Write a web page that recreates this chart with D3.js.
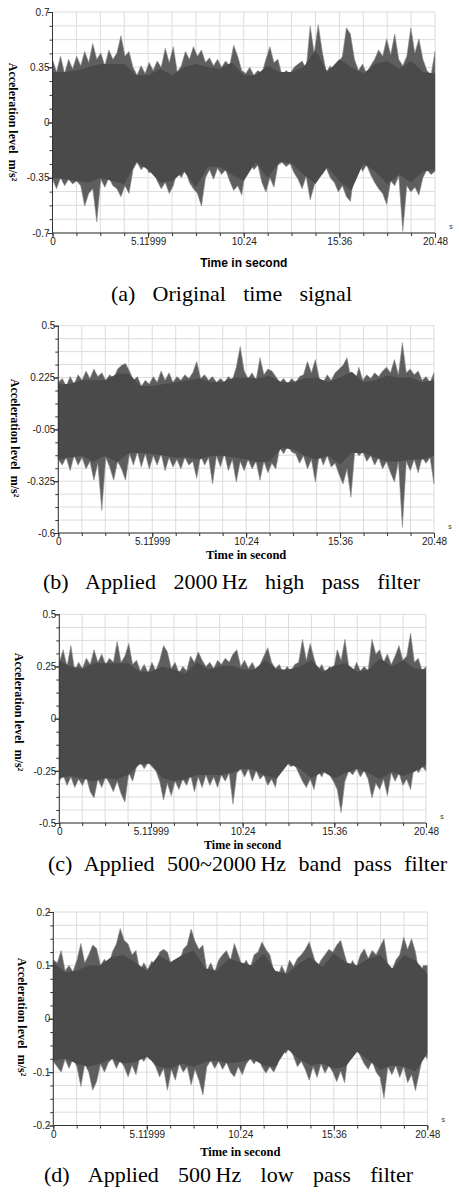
<!DOCTYPE html>
<html>
<head>
<meta charset="utf-8">
<script src="https://cdn.jsdelivr.net/npm/d3@7"></script>
<style>
  html, body { margin: 0; padding: 0; background: #fff; }
  svg { display: block; }
</style>
</head>
<body>
<svg id="chart" width="459" height="1193"></svg>
<script>
// shared x axis
const xTickValues = [0, 5.12, 10.24, 15.36, 20.48];
const xTickLabels = ['0', '5.11999', '10.24', '15.36', '20.48'];
const timeEnd = 20.48;

// (a) original time signal: peak envelope (96 pts) and dense core (33 pts)
const yTicksA = [0.7, 0.35, 0, -0.35, -0.7];
const yLabelsA = ['0.7', '0.35', '0', '-0.35', '-0.7'];
const upA = [0.40,0.32,0.42,0.31,0.40,0.34,0.42,0.36,0.45,0.38, 0.50,0.40,0.44,0.36,0.46,0.40,0.44,0.55,0.42,0.45,
  0.35,0.30,0.36,0.31,0.38,0.33,0.39,0.35,0.47,0.38, 0.48,0.32,0.36,0.45,0.40,0.48,0.42,0.46,0.38,0.41,
  0.36,0.40,0.35,0.39,0.36,0.49,0.42,0.33,0.31,0.35, 0.30,0.33,0.31,0.40,0.48,0.38,0.40,0.30,0.33,0.31,
  0.35,0.37,0.39,0.34,0.61,0.44,0.62,0.45,0.32,0.36, 0.31,0.38,0.42,0.60,0.56,0.40,0.33,0.37,0.31,0.36,
  0.40,0.46,0.42,0.53,0.43,0.56,0.40,0.36,0.42,0.60, 0.44,0.53,0.40,0.33,0.30,0.45];
const loA = [-0.36,-0.42,-0.35,-0.40,-0.36,-0.39,-0.37,-0.40,-0.53,-0.45, -0.42,-0.63,-0.36,-0.41,-0.35,-0.40,-0.42,-0.47,-0.40,-0.45,
  -0.30,-0.25,-0.30,-0.27,-0.32,-0.30,-0.37,-0.42,-0.38,-0.45, -0.40,-0.31,-0.35,-0.30,-0.38,-0.42,-0.45,-0.53,-0.35,-0.30,
  -0.36,-0.29,-0.33,-0.30,-0.37,-0.43,-0.40,-0.46,-0.29,-0.25, -0.30,-0.27,-0.38,-0.44,-0.35,-0.41,-0.27,-0.25,-0.28,-0.26,
  -0.32,-0.36,-0.42,-0.34,-0.49,-0.40,-0.30,-0.33,-0.29,-0.35, -0.38,-0.44,-0.40,-0.47,-0.50,-0.30,-0.25,-0.31,-0.27,-0.33,
  -0.38,-0.42,-0.45,-0.52,-0.37,-0.40,-0.34,-0.69,-0.40,-0.44, -0.41,-0.46,-0.35,-0.30,-0.33,-0.31];
const coreUpA = [0.32,0.32,0.33,0.35,0.37,0.37,0.37,0.30,0.30,0.34,0.30,0.35,0.37,0.35,0.34,0.38,0.30,
  0.30,0.36,0.32,0.32,0.35,0.46,0.32,0.40,0.35,0.31,0.37,0.39,0.34,0.39,0.32,0.31];
const coreLoA = [-0.35,-0.36,-0.37,-0.38,-0.35,-0.37,-0.39,-0.25,-0.30,-0.38,-0.37,-0.31,-0.41,-0.28,-0.28,-0.33,-0.37,
  -0.25,-0.35,-0.25,-0.26,-0.33,-0.39,-0.28,-0.37,-0.43,-0.26,-0.31,-0.39,-0.33,-0.38,-0.31,-0.30];

// (b) 2000 Hz high pass
const yTicksB = [0.5, 0.225, -0.05, -0.325, -0.6];
const yLabelsB = ['0.5', '0.225', '-0.05', '-0.325', '-0.6'];
const upB = [0.20,0.22,0.18,0.23,0.19,0.24,0.21,0.26,0.22,0.27, 0.23,0.25,0.21,0.24,0.22,0.27,0.29,0.30,0.26,0.21,
  0.23,0.18,0.21,0.19,0.23,0.20,0.26,0.21,0.25,0.20, 0.23,0.21,0.24,0.22,0.25,0.31,0.22,0.24,0.21,0.23,
  0.20,0.22,0.20,0.23,0.21,0.28,0.39,0.26,0.22,0.25, 0.21,0.33,0.24,0.27,0.26,0.23,0.20,0.22,0.19,0.22,
  0.20,0.23,0.24,0.31,0.25,0.32,0.22,0.20,0.24,0.21, 0.25,0.27,0.29,0.33,0.22,0.20,0.28,0.21,0.24,0.22,
  0.25,0.23,0.26,0.28,0.25,0.32,0.24,0.41,0.25,0.27, 0.24,0.26,0.21,0.23,0.20,0.25];
const loB = [-0.21,-0.24,-0.20,-0.27,-0.19,-0.24,-0.20,-0.26,-0.22,-0.32, -0.23,-0.48,-0.20,-0.25,-0.32,-0.22,-0.26,-0.32,-0.18,-0.24,
  -0.17,-0.25,-0.18,-0.26,-0.19,-0.24,-0.18,-0.27,-0.20,-0.25, -0.21,-0.26,-0.20,-0.24,-0.22,-0.31,-0.19,-0.24,-0.20,-0.34,
  -0.19,-0.25,-0.18,-0.27,-0.21,-0.33,-0.22,-0.27,-0.21,-0.26, -0.22,-0.32,-0.22,-0.28,-0.23,-0.26,-0.15,-0.18,-0.14,-0.17,
  -0.18,-0.23,-0.19,-0.26,-0.21,-0.33,-0.18,-0.24,-0.19,-0.25, -0.23,-0.29,-0.34,-0.26,-0.41,-0.16,-0.19,-0.17,-0.22,-0.19,
  -0.24,-0.20,-0.26,-0.22,-0.28,-0.33,-0.22,-0.57,-0.22,-0.27, -0.21,-0.28,-0.20,-0.23,-0.20,-0.34];
const coreUpB = [0.19,0.19,0.21,0.21,0.21,0.245,0.245,0.18,0.18,0.19,0.20,0.21,0.22,0.20,0.20,0.225,0.225,
  0.22,0.235,0.20,0.20,0.22,0.225,0.20,0.225,0.255,0.20,0.21,0.235,0.225,0.225,0.20,0.21];
const coreLoB = [-0.21,-0.20,-0.19,-0.22,-0.19,-0.225,-0.175,-0.175,-0.18,-0.19,-0.20,-0.20,-0.21,-0.19,-0.19,-0.20,-0.21,
  -0.225,-0.22,-0.15,-0.155,-0.19,-0.21,-0.19,-0.235,-0.175,-0.175,-0.20,-0.22,-0.22,-0.21,-0.21,-0.19];

// (c) 500~2000 Hz band pass
const yTicksC = [0.5, 0.25, 0, -0.25, -0.5];
const yLabelsC = ['0.5', '0.25', '0', '-0.25', '-0.5'];
const upC = [0.27,0.33,0.25,0.35,0.23,0.27,0.24,0.29,0.26,0.33, 0.27,0.31,0.26,0.29,0.27,0.37,0.27,0.30,0.36,0.26,
  0.28,0.23,0.26,0.22,0.27,0.23,0.28,0.35,0.32,0.24, 0.27,0.22,0.25,0.23,0.30,0.27,0.32,0.28,0.25,0.27,
  0.24,0.28,0.26,0.29,0.27,0.31,0.33,0.25,0.28,0.24, 0.27,0.23,0.26,0.30,0.34,0.27,0.24,0.26,0.22,0.25,
  0.23,0.26,0.27,0.38,0.28,0.36,0.29,0.23,0.26,0.22, 0.25,0.23,0.33,0.28,0.38,0.25,0.22,0.27,0.23,0.25,
  0.23,0.38,0.31,0.33,0.27,0.31,0.26,0.30,0.35,0.28, 0.30,0.41,0.27,0.29,0.23,0.25];
const loC = [-0.30,-0.27,-0.32,-0.28,-0.33,-0.29,-0.32,-0.28,-0.35,-0.38, -0.29,-0.33,-0.28,-0.31,-0.35,-0.30,-0.36,-0.40,-0.26,-0.30,
  -0.23,-0.21,-0.24,-0.21,-0.23,-0.25,-0.30,-0.39,-0.31,-0.37, -0.30,-0.34,-0.29,-0.32,-0.27,-0.35,-0.28,-0.33,-0.27,-0.32,
  -0.28,-0.33,-0.27,-0.30,-0.26,-0.41,-0.26,-0.24,-0.28,-0.24, -0.30,-0.25,-0.29,-0.27,-0.32,-0.29,-0.33,-0.22,-0.24,-0.21,
  -0.23,-0.22,-0.26,-0.30,-0.33,-0.29,-0.34,-0.25,-0.28,-0.24, -0.27,-0.30,-0.34,-0.45,-0.30,-0.25,-0.27,-0.24,-0.28,-0.25,
  -0.29,-0.38,-0.31,-0.34,-0.29,-0.37,-0.26,-0.30,-0.26,-0.32, -0.29,-0.34,-0.22,-0.26,-0.23,-0.25];
const coreUpC = [0.28,0.25,0.24,0.265,0.265,0.265,0.265,0.225,0.225,0.25,0.235,0.215,0.27,0.235,0.25,0.255,0.235,
  0.235,0.28,0.235,0.235,0.25,0.28,0.225,0.255,0.265,0.225,0.235,0.29,0.25,0.28,0.24,0.235];
const coreLoC = [-0.285,-0.275,-0.285,-0.30,-0.285,-0.29,-0.27,-0.22,-0.215,-0.285,-0.30,-0.29,-0.27,-0.27,-0.27,-0.26,-0.24,
  -0.245,-0.275,-0.285,-0.215,-0.24,-0.285,-0.255,-0.285,-0.26,-0.24,-0.26,-0.29,-0.255,-0.275,-0.255,-0.22];

// (d) 500 Hz low pass
const yTicksD = [0.2, 0.1, 0, -0.1, -0.2];
const yLabelsD = ['0.2', '0.1', '0', '-0.1', '-0.2'];
const upD = [0.110,0.105,0.128,0.090,0.100,0.088,0.110,0.141,0.105,0.120, 0.138,0.132,0.100,0.112,0.098,0.125,0.140,0.169,0.147,0.140,
  0.120,0.128,0.090,0.105,0.092,0.108,0.100,0.125,0.130,0.125, 0.100,0.110,0.105,0.130,0.138,0.168,0.145,0.130,0.138,0.090,
  0.105,0.088,0.110,0.120,0.128,0.110,0.141,0.120,0.098,0.110, 0.095,0.120,0.125,0.144,0.130,0.120,0.090,0.078,0.100,0.085,
  0.110,0.098,0.113,0.120,0.130,0.144,0.120,0.095,0.110,0.120, 0.130,0.125,0.138,0.147,0.120,0.095,0.109,0.097,0.120,0.131,
  0.113,0.128,0.120,0.135,0.150,0.100,0.090,0.110,0.120,0.153, 0.130,0.150,0.125,0.081,0.100,0.100];
const loD = [-0.080,-0.090,-0.100,-0.076,-0.093,-0.075,-0.090,-0.127,-0.085,-0.100, -0.134,-0.118,-0.085,-0.100,-0.082,-0.075,-0.093,-0.078,-0.090,-0.109,
  -0.087,-0.105,-0.071,-0.080,-0.068,-0.078,-0.090,-0.109,-0.093,-0.134, -0.095,-0.115,-0.085,-0.100,-0.090,-0.124,-0.095,-0.115,-0.143,-0.090,
  -0.078,-0.093,-0.080,-0.095,-0.082,-0.100,-0.109,-0.090,-0.105,-0.085, -0.075,-0.085,-0.072,-0.090,-0.102,-0.090,-0.100,-0.085,-0.053,-0.065,
  -0.055,-0.070,-0.090,-0.080,-0.095,-0.115,-0.090,-0.110,-0.085,-0.102, -0.088,-0.100,-0.118,-0.098,-0.120,-0.060,-0.065,-0.057,-0.070,-0.085,
  -0.095,-0.080,-0.100,-0.110,-0.149,-0.090,-0.105,-0.088,-0.110,-0.090, -0.120,-0.105,-0.135,-0.100,-0.065,-0.075];
const coreUpD = [0.106,0.087,0.09,0.10,0.10,0.116,0.119,0.106,0.09,0.119,0.106,0.119,0.128,0.094,0.09,0.113,0.106,
  0.10,0.122,0.09,0.084,0.103,0.116,0.097,0.122,0.106,0.10,0.113,0.119,0.094,0.119,0.109,0.084];
const coreLoD = [-0.078,-0.075,-0.084,-0.09,-0.084,-0.075,-0.084,-0.081,-0.071,-0.09,-0.093,-0.084,-0.09,-0.081,-0.078,-0.084,-0.081,
  -0.075,-0.087,-0.09,-0.056,-0.075,-0.087,-0.084,-0.093,-0.09,-0.062,-0.078,-0.096,-0.087,-0.09,-0.099,-0.065];

const panels = [
  { up: upA, lo: loA, coreUp: coreUpA, coreLo: coreLoA, ticks: yTicksA, labels: yLabelsA,
    x0: 52.5, x1: 435, y0: 12, y1: 233, ylabX: 13, ylabY: 122,
    titleSans: true, titleSize: 12, titleY: 263,
    caption: '(a) Original time signal', capX0: 111, capX1: 352, capY: 300.5 },
  { up: upB, lo: loB, coreUp: coreUpB, coreLo: coreLoB, ticks: yTicksB, labels: yLabelsB,
    x0: 58.3, x1: 434, y0: 325.7, y1: 533, ylabX: 15, ylabY: 438,
    titleSans: false, titleSize: 12.5, titleY: 555,
    caption: '(b) Applied 2000\u2009Hz high pass filter', capX0: 43, capX1: 420, capY: 589 },
  { up: upC, lo: loC, coreUp: coreUpC, coreLo: coreLoC, ticks: yTicksC, labels: yLabelsC,
    x0: 59.3, x1: 426, y0: 614.3, y1: 823, ylabX: 19, ylabY: 712,
    titleSans: false, titleSize: 12, titleY: 844.5,
    caption: '(c) Applied 500~2000\u2009Hz band pass filter', capX0: 48, capX1: 447, capY: 871 },
  { up: upD, lo: loD, coreUp: coreUpD, coreLo: coreLoD, ticks: yTicksD, labels: yLabelsD,
    x0: 53.3, x1: 427.3, y0: 912, y1: 1125.5, ylabX: 22.5, ylabY: 1017,
    titleSans: false, titleSize: 12.5, titleY: 1151.5,
    caption: '(d) Applied 500\u2009Hz low pass filter', capX0: 44, capX1: 413, capY: 1182 }
];

const svg = d3.select('#chart');
svg.append('rect').attr('width', 459).attr('height', 1193).attr('fill', '#fff');

panels.forEach((p) => {
  const g = svg.append('g');
  const yDom = [p.ticks[p.ticks.length - 1], p.ticks[0]];
  const x = d3.scaleLinear().domain([0, timeEnd]).range([p.x0, p.x1]);
  const xi = d3.scaleLinear().domain([0, p.up.length - 1]).range([p.x0, p.x1]);
  const xc = d3.scaleLinear().domain([0, p.coreUp.length - 1]).range([p.x0, p.x1]);
  const y = d3.scaleLinear().domain(yDom).range([p.y1, p.y0]);

  const xGrid = d3.range(17).map((k) => k * timeEnd / 16);
  const yGrid = d3.range(17).map((k) => yDom[0] + k * (yDom[1] - yDom[0]) / 16);

  // grid
  g.selectAll('.vg').data(xGrid).join('line')
    .attr('x1', (d) => x(d)).attr('x2', (d) => x(d))
    .attr('y1', p.y0).attr('y2', p.y1)
    .attr('stroke', '#dcdcdc').attr('stroke-width', 1);
  g.selectAll('.hg').data(yGrid).join('line')
    .attr('x1', p.x0).attr('x2', p.x1)
    .attr('y1', (d) => y(d)).attr('y2', (d) => y(d))
    .attr('stroke', '#dcdcdc').attr('stroke-width', 1);

  // peak envelope (fringe of spikes)
  const peaks = d3.area()
    .x((d, i) => xi(i))
    .y0((d, i) => y(p.lo[i]))
    .y1((d) => y(d));
  g.append('path').datum(p.up)
    .attr('d', peaks)
    .attr('fill', '#5e5e5e')
    .attr('stroke', '#8e8e8e').attr('stroke-width', 0.6);

  // dense core of the vibration
  const core = d3.area()
    .x((d, i) => xc(i))
    .y0((d, i) => y(p.coreLo[i]))
    .y1((d) => y(d));
  g.append('path').datum(p.coreUp)
    .attr('d', core)
    .attr('fill', '#4a4a4a');

  // axes
  const xMinor = g.append('g').attr('transform', `translate(0,${p.y1})`)
    .call(d3.axisBottom(x).tickValues(xGrid).tickSize(3).tickFormat(''));
  const xMajor = g.append('g').attr('transform', `translate(0,${p.y1})`)
    .call(d3.axisBottom(x).tickValues(xTickValues).tickSize(5)
      .tickFormat((d, i) => xTickLabels[i]));
  const yMinor = g.append('g').attr('transform', `translate(${p.x0},0)`)
    .call(d3.axisLeft(y).tickValues(yGrid).tickSize(3).tickFormat(''));
  const yMajor = g.append('g').attr('transform', `translate(${p.x0},0)`)
    .call(d3.axisLeft(y).tickValues(p.ticks).tickSize(5)
      .tickFormat((d, i) => p.labels[i]));

  [xMinor, xMajor, yMinor, yMajor].forEach((a) => {
    a.selectAll('.domain').attr('stroke', '#333').attr('stroke-width', 1);
    a.selectAll('.tick line').attr('stroke', '#333');
    a.selectAll('text').attr('fill', '#222')
      .style('font-family', '"Liberation Sans", Arial, sans-serif').style('font-size', '10px');
  });
  xMajor.selectAll('text').attr('y', 5).attr('dy', '0.71em');
  xMajor.selectAll('.domain').attr('d', `M${p.x0},0H${p.x1}`);
  xMinor.selectAll('.domain').remove();
  yMinor.selectAll('.domain').remove();
  yMajor.selectAll('.domain').attr('d', `M0,${p.y0}V${p.y1}`);
  yMajor.selectAll('text').attr('x', -3);

  // unit mark
  g.append('text').attr('x', p.x1 + 16).attr('y', p.y1 - 4)
    .attr('text-anchor', 'middle')
    .style('font-family', '"Liberation Sans", Arial, sans-serif').style('font-size', '7px')
    .attr('fill', '#333').text('s');

  // x title
  g.append('text')
    .attr('x', (p.x0 + p.x1) / 2).attr('y', p.titleY).attr('dy', '0.35em')
    .attr('text-anchor', 'middle')
    .style('font-family', p.titleSans ? '"Liberation Sans", Arial, sans-serif' : '"Liberation Serif", "Times New Roman", serif')
    .style('font-size', `${p.titleSize}px`)
    .style('font-weight', 'bold')
    .text('Time in second');

  // y title
  g.append('text')
    .attr('transform', `translate(${p.ylabX},${p.ylabY}) rotate(90)`)
    .attr('text-anchor', 'middle').attr('dy', '0.35em')
    .style('font-family', '"Liberation Serif", "Times New Roman", serif')
    .style('font-size', '12px').style('font-weight', 'bold')
    .style('white-space', 'pre')
    .text('Acceleration level  m/s\u00b2');

  // caption
  const cap = g.append('text')
    .attr('x', p.capX0).attr('y', p.capY)
    .style('font-family', '"Liberation Serif", "Times New Roman", serif')
    .style('font-size', '22px')
    .text(p.caption);
  const natural = cap.node().getComputedTextLength();
  const gaps = p.caption.split(' ').length - 1;
  cap.style('word-spacing', `${(p.capX1 - p.capX0 - natural) / gaps}px`);
});
</script>
</body>
</html>
